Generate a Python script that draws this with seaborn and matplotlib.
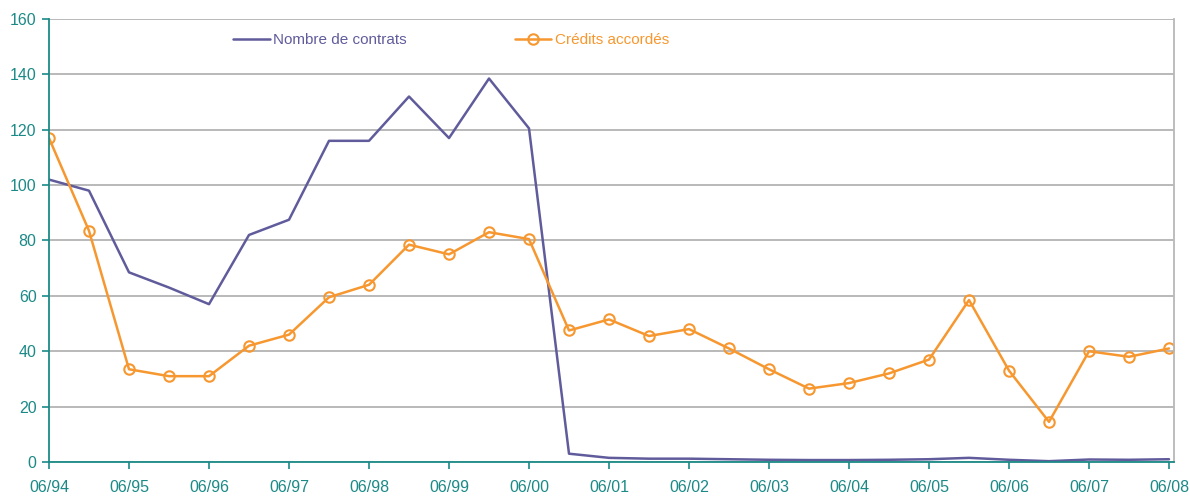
import matplotlib
matplotlib.use("Agg")
import matplotlib.pyplot as plt
import seaborn as sns
import pandas as pd
import numpy as np

periods = ["06/94", "12/94", "06/95", "12/95", "06/96", "12/96", "06/97", "12/97",
           "06/98", "12/98", "06/99", "12/99", "06/00", "12/00", "06/01", "12/01",
           "06/02", "12/02", "06/03", "12/03", "06/04", "12/04", "06/05", "12/05",
           "06/06", "12/06", "06/07", "12/07", "06/08"]
contrats = [102, 98, 68.5, 63, 57, 82, 87.5, 116, 116, 132, 117, 138.5, 120.5, 3,
            1.5, 1.2, 1.2, 1.0, 0.8, 0.7, 0.7, 0.8, 1.0, 1.5, 0.8, 0.3, 0.9, 0.8, 1.0]
credits = [117, 83.5, 33.5, 31, 31, 42, 46, 59.5, 64, 78.5, 75, 83, 80.5, 47.5,
           51.5, 45.5, 48, 41, 33.5, 26.5, 28.5, 32, 37, 58.5, 33, 14.5, 40, 38, 41]
tick_labels = ["06/94", "06/95", "06/96", "06/97", "06/98", "06/99", "06/00", "06/01",
               "06/02", "06/03", "06/04", "06/05", "06/06", "06/07", "06/08"]

df = pd.DataFrame({"idx": np.arange(len(periods)), "periode": periods,
                   "Nombre de contrats": contrats, "Crédits accordés": credits})

sns.set_theme(style="white")
plt.rcParams['font.family'] = ['Liberation Sans', 'DejaVu Sans']

teal = "#1B8A87"
purple = "#605C9C"
orange = "#F7972F"

fig = plt.figure(figsize=(11.9, 4.97), dpi=100)
ax = fig.add_axes([49/1190, 1-462/497, (1174-49)/1190, (462-19)/497])

sns.lineplot(data=df, x="idx", y="Nombre de contrats", ax=ax, color=purple,
             linewidth=1.8, label="Nombre de contrats")
sns.lineplot(data=df, x="idx", y="Crédits accordés", ax=ax, color=orange,
             linewidth=1.8, marker="o", markersize=7.5, markerfacecolor="none",
             markeredgecolor=orange, markeredgewidth=1.5, label="Crédits accordés")

ax.set_xlim(0, 28 * (1174 - 49) / (1169 - 49))
ax.set_ylim(0, 160)
ax.set_yticks(np.arange(0, 161, 20))
ax.set_xticks([periods.index(t) for t in tick_labels])
ax.set_xticklabels(tick_labels)
ax.set_xlabel("")
ax.set_ylabel("")
ax.yaxis.grid(True, color="#A6A6A6", linewidth=1.1)
ax.set_axisbelow(True)

for s in ["left", "bottom"]:
    ax.spines[s].set_color(teal)
    ax.spines[s].set_linewidth(1.3)
ax.spines["top"].set_visible(False)
ax.spines["right"].set_color("#B8B8B8")
ax.spines["right"].set_linewidth(1.3)

ax.tick_params(axis="both", colors=teal, labelcolor=teal, labelsize=11.5,
               direction="out", length=5, width=1.2, bottom=True, left=True)
ax.tick_params(axis="x", pad=8)
ax.tick_params(axis="y", pad=4)

leg = ax.legend(loc="center left", bbox_to_anchor=(233/1190, 1-40/497),
                bbox_transform=fig.transFigure, ncol=2, borderpad=0,
                borderaxespad=0, frameon=False, fontsize=11, columnspacing=7.1,
                handlelength=2.4, handletextpad=0.2)
for text, col in zip(leg.get_texts(), [purple, orange]):
    text.set_color(col)

fig.savefig("out.png", dpi=100)
